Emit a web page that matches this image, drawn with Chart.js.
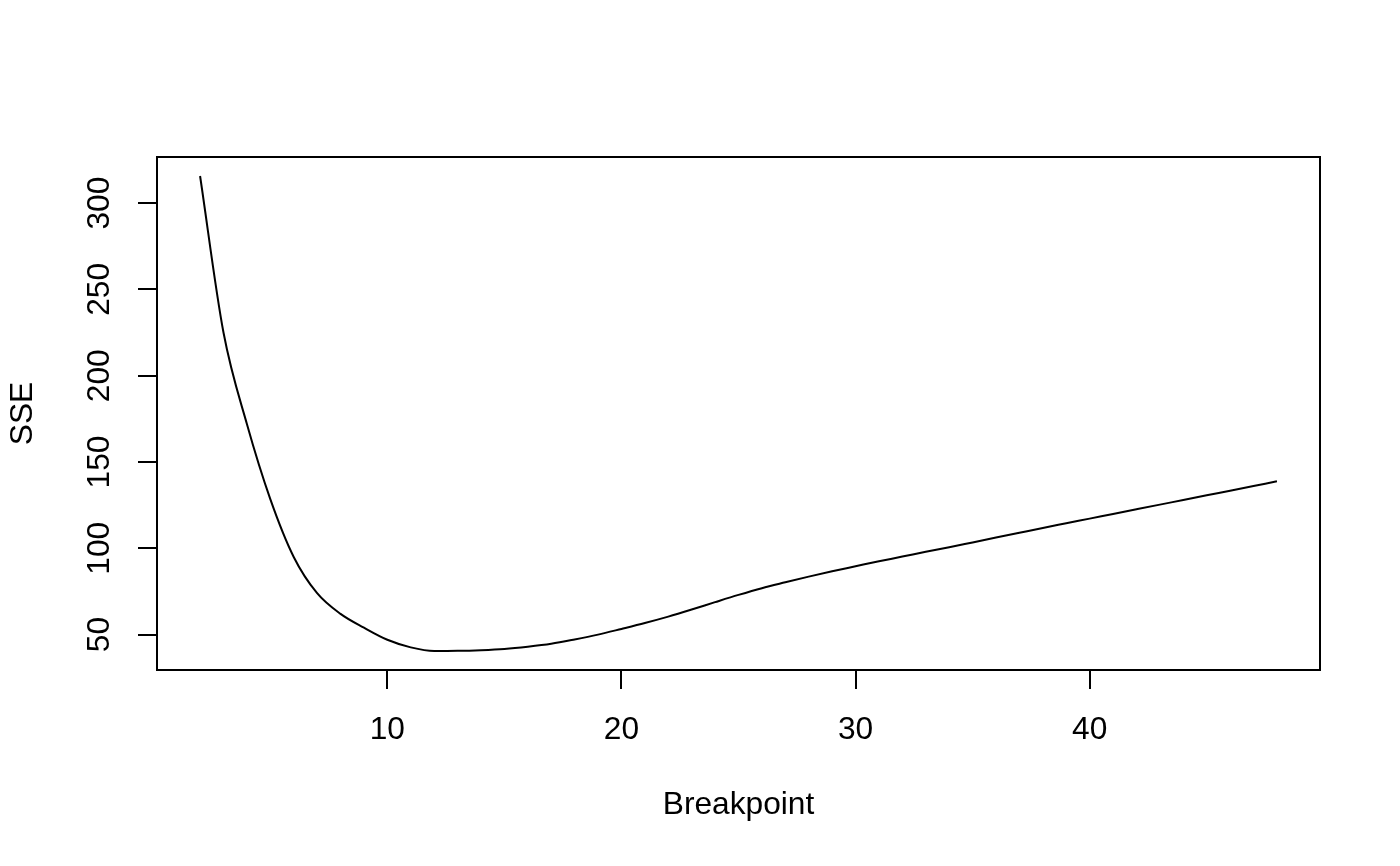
<!DOCTYPE html>
<html>
<head>
<meta charset="utf-8">
<script src="https://cdn.jsdelivr.net/npm/chart.js@4"></script>
<style>
  html, body { margin: 0; padding: 0; background: #ffffff; }
  canvas { display: block; }
</style>
</head>
<body>
<canvas id="c" width="1400" height="866"></canvas>
<script>
const breakpoints = [2, 3, 4, 5, 6, 7, 8, 9, 10, 11, 12, 13, 14, 15, 16, 17, 18, 19, 20, 21, 22, 23, 24, 25,
  26, 27, 28, 29, 30, 31, 32, 33, 34, 35, 36, 37, 38, 39, 40, 41, 42, 43, 44, 45, 46, 47, 48];
const sse = [315.7, 225, 172, 128.5, 95, 74, 62, 54, 47, 42.6, 40.5, 40.6, 41.0, 41.7, 43.0, 44.7, 47.2, 50.0, 53.3, 56.7,
  60.4, 64.5, 68.8, 73.0, 76.9, 80.3, 83.6, 86.7, 89.6, 92.5, 95.2, 98.0, 100.6, 103.4, 106.2, 109.0, 111.8, 114.5,
  117.2, 119.9, 122.6, 125.3, 128.0, 130.7, 133.4, 136.1, 138.8];
const xTicks = [10, 20, 30, 40];
const yTicks = [50, 100, 150, 200, 250, 300];
const xTitle = 'Breakpoint';
const yTitle = 'SSE';

const FONT = 'Liberation Sans, Arial, Helvetica, sans-serif';
const FS = 31.7;

// R-style axis range: data range extended by 4% on each side
function rRange(arr) {
  const mn = Math.min(...arr), mx = Math.max(...arr);
  const d = (mx - mn) * 0.04;
  return [mn - d, mx + d];
}
const [xMin, xMax] = rRange(breakpoints);
const [yMin, yMax] = rRange(sse);

const boxPlugin = {
  id: 'box',
  afterDraw(chart) {
    const a = chart.chartArea, ctx = chart.ctx;
    ctx.save();
    ctx.strokeStyle = '#000';
    ctx.lineWidth = 2;
    ctx.strokeRect(a.left, a.top, a.right - a.left, a.bottom - a.top);
    ctx.restore();
  }
};

new Chart(document.getElementById('c'), {
  type: 'line',
  data: {
    datasets: [{
      data: breakpoints.map((x, i) => ({ x: x, y: sse[i] })),
      borderColor: '#000',
      borderWidth: 2,
      pointRadius: 0,
      fill: false,
      cubicInterpolationMode: 'monotone'
    }]
  },
  options: {
    responsive: false,
    animation: false,
    layout: { padding: { left: 0, top: 157, right: 80, bottom: 0 } },
    plugins: { legend: { display: false }, tooltip: { enabled: false } },
    scales: {
      x: {
        type: 'linear',
        min: xMin, max: xMax,
        afterFit(s) { s.height = 196; },
        afterBuildTicks(s) { s.ticks = xTicks.map(v => ({ value: v })); },
        ticks: { includeBounds: false, color: '#000', padding: 22, maxRotation: 0,
                 font: { family: FONT, size: FS } },
        grid: { drawOnChartArea: false, color: '#000', tickLength: 19, lineWidth: 2 },
        border: { display: false },
        title: { display: true, text: xTitle, color: '#000', font: { family: FONT, size: FS },
                 padding: { top: 0, bottom: 42 } }
      },
      y: {
        type: 'linear',
        min: yMin, max: yMax,
        afterFit(s) { s.width = 157; },
        afterBuildTicks(s) { s.ticks = yTicks.map(v => ({ value: v })); },
        ticks: { includeBounds: false, color: '#000', padding: 11, minRotation: 90, maxRotation: 90,
                 crossAlign: 'center', font: { family: FONT, size: FS } },
        grid: { drawOnChartArea: false, color: '#000', tickLength: 19, lineWidth: 2 },
        border: { display: false },
        title: { display: true, text: yTitle, color: '#000', font: { family: FONT, size: FS },
                 padding: { top: 4, bottom: 0 } }
      }
    }
  },
  plugins: [boxPlugin]
});
</script>
</body>
</html>
